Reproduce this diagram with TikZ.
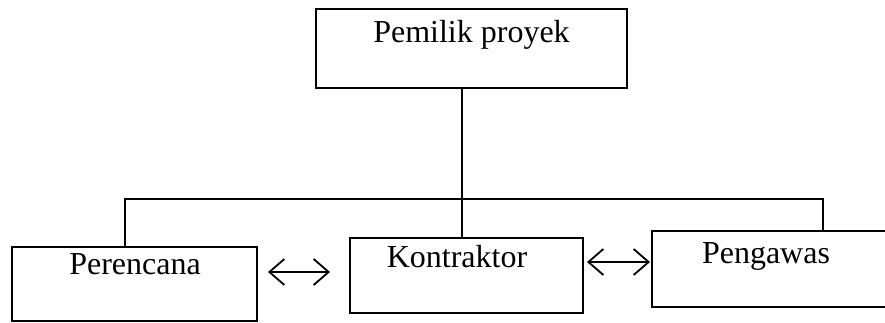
\documentclass[tikz,border=0pt]{standalone}
\usepackage{fontspec}
\setmainfont{Liberation Serif}
\usetikzlibrary{arrows.meta}
\begin{document}
\begin{tikzpicture}[x=1pt,y=-1pt,
  box/.style={draw, rectangle, inner sep=0pt, line width=1.5pt},
  lbl/.style={anchor=base, font=\fontsize{32}{36}\selectfont, inner sep=0pt},
  link/.style={line width=2pt},
  dbl/.style={line width=1.8pt, {Straight Barb[length=15pt,width=26pt]}-{Straight Barb[length=15pt,width=26pt]}}]
\useasboundingbox (0,0) rectangle (885,323);
\clip (0,0) rectangle (885,323);
% boxes
\node[box, minimum width=311pt, minimum height=79pt] (own) at (471.5,48.5) {};
\node[box, minimum width=245pt, minimum height=74pt] (plan) at (134.5,284) {};
\node[box, minimum width=233pt, minimum height=75pt] (kon) at (466.5,275.5) {};
\node[box, minimum width=260pt, minimum height=76pt] (peng) at (782,269) {};
% labels
\node[lbl] (townn) at (471.5,43) {Pemilik proyek};
\node[lbl] (tplan) at (135,274) {Perencana};
\node[lbl] (tkon) at (457,267) {Kontraktor};
\node[lbl] (tpeng) at (766,263) {Pengawas};
% connector tree
\coordinate (j) at (462,199);
\coordinate (bl) at (125,199);
\coordinate (br) at (823,199);
\draw[link] (own.south -| j) -- (kon.north -| j);
\draw[link] (plan.north -| bl) -- (bl) -- (br) -- (peng.north -| br);
% double arrows
\coordinate (a1) at (268,272);
\coordinate (a2) at (330,272);
\coordinate (b1) at (587,262);
\coordinate (b2) at (650,262);
\draw[dbl] (a1) -- (a2);
\draw[dbl] (b1) -- (b2);
\end{tikzpicture}
\end{document}
